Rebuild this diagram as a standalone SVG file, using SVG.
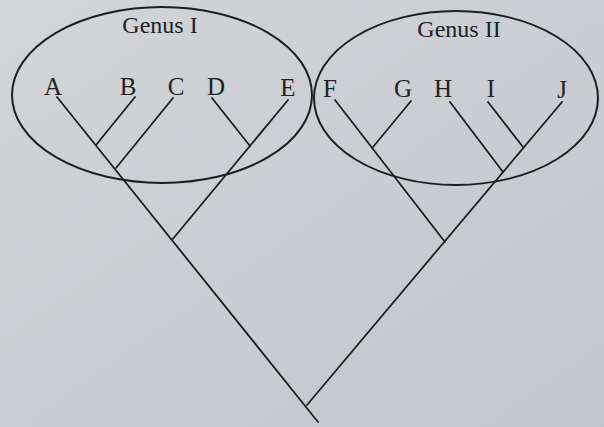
<svg xmlns="http://www.w3.org/2000/svg" width="604" height="427" viewBox="0 0 604 427">
<defs>
<linearGradient id="bg" x1="0" y1="0" x2="1" y2="1">
<stop offset="0" stop-color="#d3d5d8"/>
<stop offset="1" stop-color="#c2c6cb"/>
</linearGradient>
<style>
.lbl{font-family:"Liberation Serif","DejaVu Serif",serif;font-size:25px;fill:#222;text-anchor:middle}
.genus{font-family:"Liberation Serif","DejaVu Serif",serif;font-size:24px;fill:#222;text-anchor:middle}
.ell{fill:none;stroke:#1e1e1e;stroke-width:2}
.br{stroke:#1e1e1e;stroke-width:1.8;stroke-linecap:round;fill:none}
</style>
</defs>
<rect width="604" height="427" fill="url(#bg)"/>
<g id="genus-1">
<ellipse class="ell" cx="162" cy="95" rx="150" ry="88"/>
<text class="genus" x="160" y="33">Genus I</text>
</g>
<g id="genus-2">
<ellipse class="ell" cx="456" cy="98" rx="142" ry="87"/>
<text class="genus" x="459" y="37">Genus II</text>
</g>
<g id="leaf-A"><text class="lbl" x="53" y="95">A</text></g>
<g id="leaf-B"><text class="lbl" x="128" y="95">B</text></g>
<g id="leaf-C"><text class="lbl" x="176" y="95">C</text></g>
<g id="leaf-D"><text class="lbl" x="216" y="95">D</text></g>
<g id="leaf-E"><text class="lbl" x="288" y="96">E</text></g>
<g id="leaf-F"><text class="lbl" x="330" y="97">F</text></g>
<g id="leaf-G"><text class="lbl" x="403" y="97">G</text></g>
<g id="leaf-H"><text class="lbl" x="443" y="97">H</text></g>
<g id="leaf-I"><text class="lbl" x="491" y="97">I</text></g>
<g id="leaf-J"><text class="lbl" x="562" y="98">J</text></g>
<g id="connectors">
<line class="br" x1="57" y1="97" x2="318" y2="422"/>
<line class="br" x1="135" y1="97" x2="96" y2="145"/>
<line class="br" x1="173" y1="98" x2="116" y2="168"/>
<line class="br" x1="212" y1="98" x2="250" y2="146"/>
<line class="br" x1="288" y1="100" x2="172" y2="240"/>
<line class="br" x1="335" y1="100" x2="445" y2="242"/>
<line class="br" x1="411" y1="101" x2="373" y2="147"/>
<line class="br" x1="450" y1="102" x2="503" y2="172"/>
<line class="br" x1="488" y1="102" x2="523" y2="147"/>
<line class="br" x1="562" y1="102" x2="307" y2="405"/>
</g>
</svg>
